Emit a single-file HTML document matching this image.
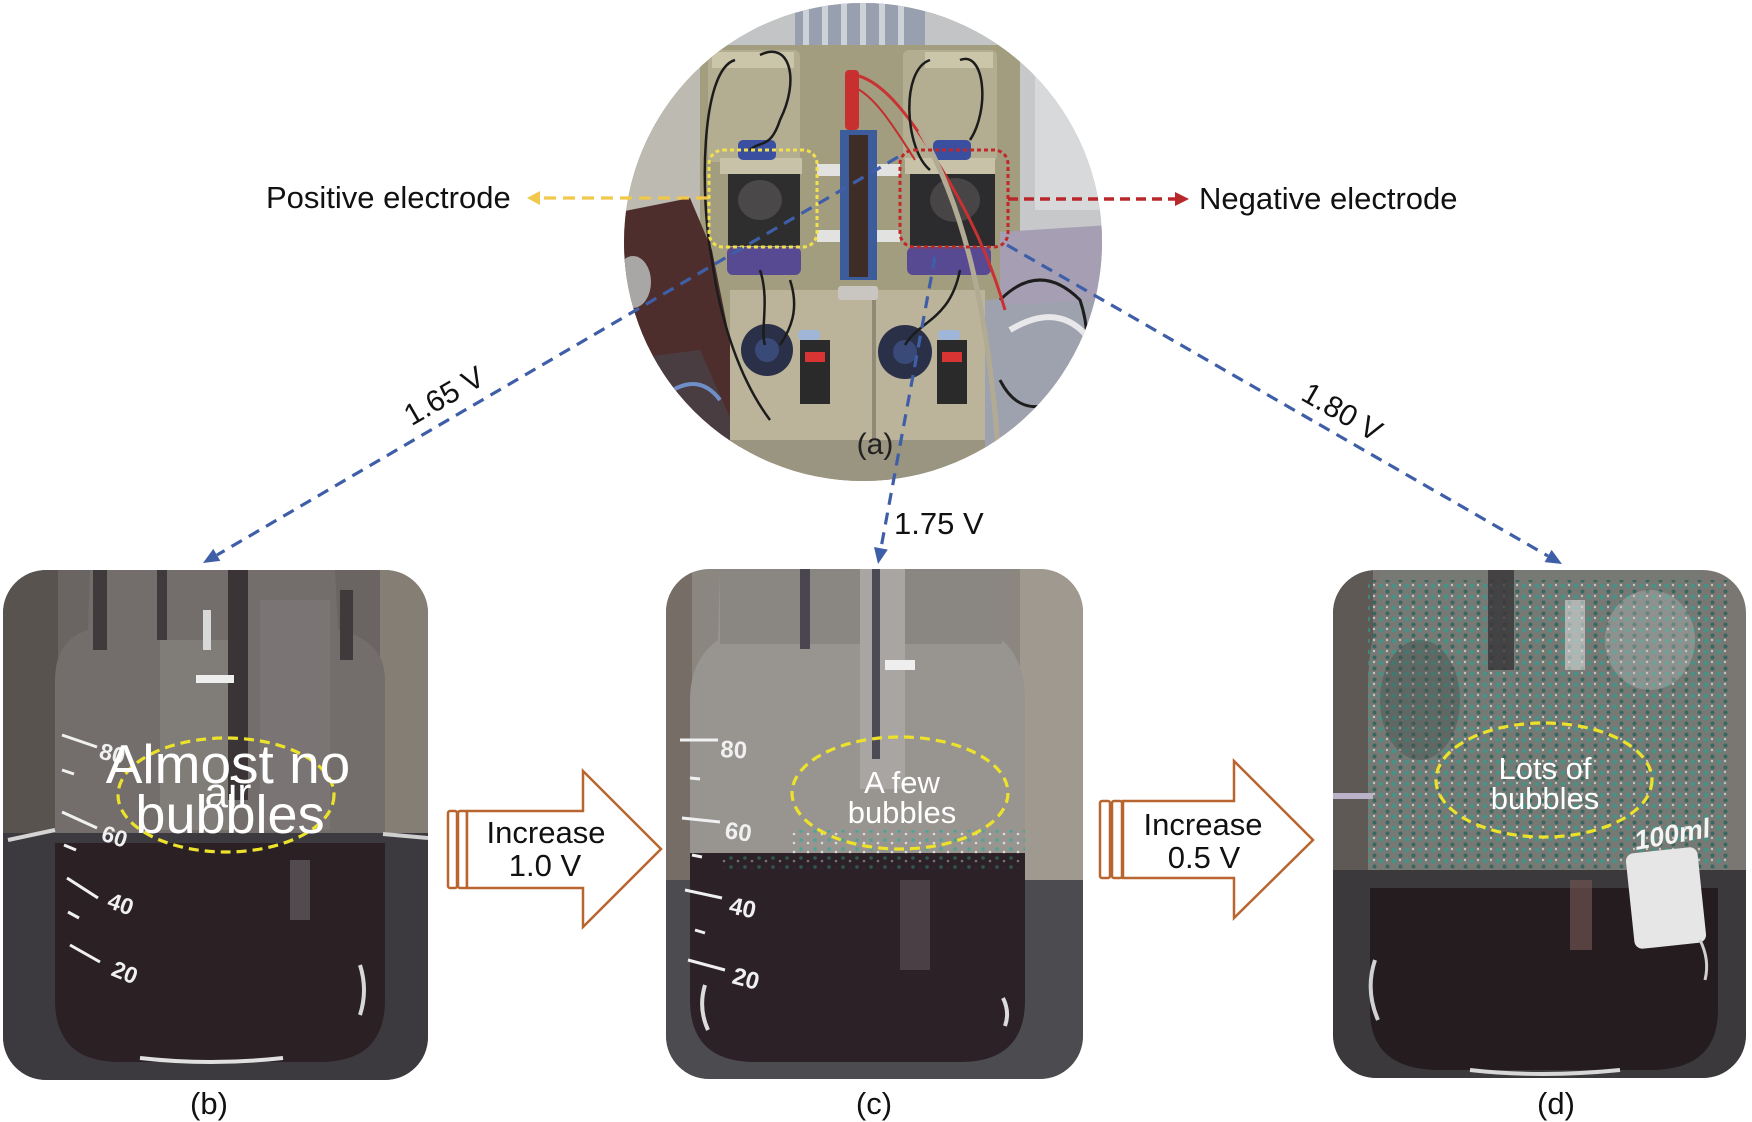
<!DOCTYPE html>
<html><head><meta charset="utf-8"><style>
html,body{margin:0;padding:0;background:#fff;}
svg{display:block;}
text{font-family:"Liberation Sans",Arial,sans-serif;}
</style></head><body>
<svg width="1752" height="1122" viewBox="0 0 1752 1122" xmlns="http://www.w3.org/2000/svg">
<defs>
<clipPath id="cA"><circle cx="863" cy="242" r="239"/></clipPath>
<clipPath id="cB"><rect x="3" y="570" width="425" height="510" rx="43"/></clipPath>
<clipPath id="cC"><rect x="666" y="569" width="417" height="510" rx="43"/></clipPath>
<clipPath id="cD"><rect x="1333" y="570" width="413" height="508" rx="43"/></clipPath>
<pattern id="bub" width="13" height="11" patternUnits="userSpaceOnUse">
 <circle cx="3" cy="3" r="2.3" fill="#2f9c90"/>
 <circle cx="9.5" cy="8.5" r="2" fill="#1d5e58"/>
 <circle cx="9" cy="2" r="1.2" fill="#dfe8e4"/>
</pattern>
<pattern id="bub2" width="14" height="9" patternUnits="userSpaceOnUse">
 <circle cx="3" cy="3" r="1.8" fill="#3aa89a"/>
 <circle cx="10" cy="6" r="1.3" fill="#e6eeec"/>
</pattern>
</defs>

<!-- ===== (a) circle photo ===== -->
<g clip-path="url(#cA)">
 <rect x="620" y="0" width="490" height="490" fill="#a39e84"/>
 <rect x="620" y="0" width="490" height="62" fill="#c2c4c6"/>
 <rect x="795" y="0" width="130" height="58" fill="#98a0b0"/>
 <g fill="#cdd1d8"><rect x="803" y="0" width="6" height="58"/><rect x="822" y="0" width="6" height="58"/><rect x="841" y="0" width="6" height="58"/><rect x="860" y="0" width="6" height="58"/><rect x="879" y="0" width="6" height="58"/><rect x="898" y="0" width="6" height="58"/></g>
 <rect x="620" y="40" width="90" height="180" fill="#bcbab1"/>
 <rect x="1010" y="40" width="100" height="200" fill="#c6c8ca"/>
 <rect x="1035" y="70" width="75" height="140" fill="#d7d9db"/>
 <rect x="700" y="45" width="320" height="290" fill="#a39d80"/>
 <rect x="708" y="50" width="92" height="112" rx="6" fill="#b3ad91"/>
 <rect x="903" y="50" width="94" height="112" rx="6" fill="#b3ad91"/>
 <rect x="712" y="52" width="82" height="16" fill="#cbc5a9"/>
 <rect x="925" y="52" width="68" height="16" fill="#cbc5a9"/>
 <polygon points="620,212 690,198 712,250 728,330 742,430 690,455 620,445" fill="#4d2e2d"/>
 <ellipse cx="633" cy="282" rx="18" ry="26" fill="#a8a7a5"/>
 <polygon points="620,360 700,350 740,440 740,490 620,490" fill="#4a3d42"/>
 <path d="M640,420 Q690,360 720,400" stroke="#6f8fc8" stroke-width="4" fill="none"/>
 <rect x="730" y="290" width="255" height="155" fill="#bbb49a"/>
 <rect x="872" y="290" width="4" height="155" fill="#8f8a74"/>
 <rect x="690" y="440" width="300" height="50" fill="#9a9580"/>
 <polygon points="985,300 1110,290 1110,490 985,490" fill="#9ea1ae"/>
 <polygon points="1000,232 1110,225 1110,300 1000,305" fill="#a69fb4"/>
 <path d="M1000,300 Q1040,260 1080,300 Q1100,360 1060,400 Q1020,420 1000,380" stroke="#1e1e1e" stroke-width="3" fill="none"/>
 <path d="M1010,330 Q1060,300 1090,340" stroke="#e8e8ea" stroke-width="6" fill="none"/>
 <circle cx="767" cy="350" r="26" fill="#2a3048"/>
 <circle cx="905" cy="352" r="27" fill="#2a3048"/>
 <circle cx="767" cy="350" r="12" fill="#3a4a78"/>
 <circle cx="905" cy="352" r="12" fill="#3a4a78"/>
 <rect x="800" y="340" width="30" height="64" fill="#2a2a2a"/>
 <rect x="937" y="340" width="30" height="64" fill="#2a2a2a"/>
 <rect x="805" y="352" width="20" height="10" fill="#d83434"/>
 <rect x="942" y="352" width="20" height="10" fill="#d83434"/>
 <rect x="798" y="330" width="22" height="10" rx="4" fill="#9fb6d8"/>
 <rect x="938" y="330" width="22" height="10" rx="4" fill="#9fb6d8"/>
 <rect x="840" y="130" width="37" height="150" fill="#3d5c9c"/>
 <rect x="849" y="135" width="19" height="142" fill="#3e2c26"/>
 <rect x="838" y="286" width="40" height="14" rx="3" fill="#c9c5c0"/>
 <g fill="#e2e2e0"><rect x="817" y="164" width="23" height="12"/><rect x="877" y="164" width="23" height="12"/><rect x="817" y="230" width="23" height="12"/><rect x="877" y="230" width="23" height="12"/></g>
 <rect x="720" y="158" width="82" height="16" fill="#c8c2a8"/>
 <rect x="905" y="158" width="90" height="16" fill="#c8c2a8"/>
 <rect x="738" y="140" width="38" height="20" rx="5" fill="#3b4fa0"/>
 <rect x="933" y="140" width="38" height="20" rx="5" fill="#3b4fa0"/>
 <rect x="728" y="174" width="72" height="72" fill="#2e2e2e"/>
 <rect x="910" y="174" width="85" height="72" fill="#2c2b2d"/>
 <ellipse cx="760" cy="200" rx="22" ry="20" fill="#4a4848"/>
 <ellipse cx="955" cy="200" rx="25" ry="22" fill="#474546"/>
 <rect x="727" y="247" width="74" height="28" rx="6" fill="#574a92"/>
 <rect x="907" y="247" width="84" height="28" rx="6" fill="#574a92"/>
 <path d="M855,75 C880,80 905,110 930,150 S985,240 1005,310" stroke="#c83232" stroke-width="3" fill="none"/>
 <path d="M848,85 C870,90 890,120 915,160" stroke="#c03030" stroke-width="2" fill="none"/>
 <rect x="845" y="70" width="14" height="60" rx="4" fill="#c83030"/>
 <path d="M920,130 C960,200 990,300 1000,480" stroke="#b2ab94" stroke-width="5" fill="none"/>
 <g stroke="#1c1c1c" stroke-width="2.5" fill="none">
  <path d="M735,60 C700,70 700,200 712,260 C720,320 740,380 770,420"/>
  <path d="M760,55 C790,40 800,80 780,120 C770,150 760,140 750,150"/>
  <path d="M930,60 C900,70 905,150 930,170"/>
  <path d="M960,60 C985,50 990,110 970,140"/>
  <path d="M760,270 C770,300 760,330 765,345"/>
  <path d="M960,270 C950,320 920,320 905,345"/>
  <path d="M790,280 C800,310 790,330 780,345"/>
 </g>
</g>

<!-- yellow / red electrode boxes and arrows -->
<rect x="709" y="150" width="108" height="97" rx="14" fill="none" stroke="#f2e04c" stroke-width="3" stroke-dasharray="4 3"/>
<line x1="708" y1="198" x2="537" y2="198" stroke="#f0c84a" stroke-width="3.2" stroke-dasharray="12 7"/>
<polygon points="527,198 540,191 540,205" fill="#f0c84a"/>
<rect x="900" y="150" width="108" height="97" rx="14" fill="none" stroke="#c0282a" stroke-width="3" stroke-dasharray="4 3"/>
<line x1="1008" y1="199" x2="1176" y2="199" stroke="#b8282a" stroke-width="3.5" stroke-dasharray="10 6"/>
<polygon points="1175,192 1189,199 1175,206" fill="#b8282a"/>
<text x="266" y="208" font-size="31" fill="#111">Positive electrode</text>
<text x="1199" y="209" font-size="31" fill="#111">Negative electrode</text>

<!-- (a) label -->
<text x="875" y="454" font-size="30" fill="#222" text-anchor="middle">(a)</text>

<!-- blue dashed connectors -->
<g stroke="#3f5ea8" stroke-width="3.2" stroke-dasharray="12 8" fill="none">
 <line x1="898" y1="157" x2="217" y2="555"/>
 <line x1="935" y1="257" x2="881" y2="548"/>
 <line x1="1007" y1="245" x2="1548" y2="556"/>
</g>
<g fill="#3f5ea8">
 <polygon points="203,563 220.3,560.9 213.3,548.9"/>
 <polygon points="878,564 887.8,549.6 874.0,547.0"/>
 <polygon points="1562,564 1544.6,562.1 1551.6,549.9"/>
</g>
<text transform="translate(444,396) rotate(-30)" x="0" y="10" font-size="30" fill="#111" text-anchor="middle">1.65 V</text>
<text transform="translate(1342,412) rotate(30)" x="0" y="10" font-size="30" fill="#111" text-anchor="middle">1.80 V</text>
<text x="894" y="534" font-size="31" fill="#111">1.75 V</text>

<!-- ===== (b) ===== -->
<g clip-path="url(#cB)">
 <rect x="3" y="570" width="425" height="510" fill="#6a6562"/>
 <rect x="380" y="570" width="50" height="265" fill="#857e75"/>
 <rect x="3" y="570" width="55" height="265" fill="#58534f"/>
 <path d="M90,570 L335,570 L338,630 Q385,640 385,680 L385,860 L55,860 L55,680 Q55,640 88,630 Z" fill="#736e6b"/>
 <rect x="160" y="640" width="70" height="190" fill="#86817e" opacity="0.7"/>
 <rect x="260" y="600" width="70" height="230" fill="#7e7979" opacity="0.6"/>
 <rect x="93" y="570" width="14" height="80" fill="#3f3a3c"/>
 <rect x="157" y="570" width="10" height="70" fill="#3f3a3c"/>
 <rect x="228" y="570" width="20" height="230" fill="#3a3436"/>
 <rect x="340" y="590" width="13" height="70" fill="#3f3a3c"/>
 <rect x="196" y="675" width="38" height="8" fill="#eeeeee"/>
 <rect x="203" y="610" width="8" height="40" fill="#d8d8d8"/>
 <rect x="3" y="833" width="425" height="250" fill="#3c3a3e"/>
 <line x1="8" y1="840" x2="55" y2="830" stroke="#d4d4d4" stroke-width="4"/>
 <line x1="383" y1="834" x2="428" y2="838" stroke="#d0d0d0" stroke-width="4"/>
 <path d="M55,843 L385,843 L385,1000 Q385,1062 320,1062 L120,1062 Q55,1062 55,1000 Z" fill="#2b2125"/>
 <rect x="290" y="860" width="20" height="60" fill="#8d8a8c" opacity="0.4"/>
 <path d="M140,1058 Q210,1066 283,1058" stroke="#e0e0e0" stroke-width="4" fill="none"/>
 <path d="M360,965 Q368,990 360,1015" stroke="#d8d8d8" stroke-width="4" fill="none"/>
 <g stroke="#f0f0f0" stroke-width="3" fill="none">
  <line x1="62" y1="735" x2="97" y2="747"/>
  <line x1="62" y1="812" x2="97" y2="828"/>
  <line x1="67" y1="878" x2="98" y2="898"/>
  <line x1="70" y1="945" x2="100" y2="962"/>
  <line x1="62" y1="770" x2="74" y2="774"/>
  <line x1="64" y1="845" x2="76" y2="850"/>
  <line x1="68" y1="912" x2="79" y2="918"/>
 </g>
 <g fill="#f0f0f0" font-size="23" font-weight="bold">
  <text transform="translate(98,758) rotate(15)">80</text>
  <text transform="translate(100,840) rotate(18)">60</text>
  <text transform="translate(106,907) rotate(20)">40</text>
  <text transform="translate(110,975) rotate(22)">20</text>
 </g>
</g>
<ellipse cx="226" cy="795" rx="108" ry="57" fill="none" stroke="#ece22c" stroke-width="3.2" stroke-dasharray="10 6"/>
<g fill="#ffffff" text-anchor="middle">
 <text x="228" y="783" font-size="55">Almost no</text>
 <text x="228" y="807" font-size="42">air</text>
 <text x="230" y="833" font-size="54">bubbles</text>
</g>

<!-- ===== (c) ===== -->
<g clip-path="url(#cC)">
 <rect x="666" y="569" width="417" height="510" fill="#8c8680"/>
 <rect x="1020" y="569" width="65" height="320" fill="#a09990"/>
 <rect x="666" y="569" width="26" height="320" fill="#766d66"/>
 <path d="M720,569 L1000,569 L1002,640 Q1025,660 1025,700 L1025,860 L690,860 L690,700 Q690,660 718,640 Z" fill="#989490"/>
 <rect x="720" y="569" width="282" height="75" fill="#8a8783"/>
 <rect x="860" y="569" width="45" height="220" fill="#a8a5a2"/>
 <rect x="872" y="569" width="8" height="190" fill="#4c4a55"/>
 <rect x="800" y="569" width="10" height="80" fill="#4a4650"/>
 <rect x="885" y="660" width="30" height="10" fill="#eeeeee"/>
 <rect x="666" y="880" width="417" height="200" fill="#4c4b4f"/>
 <path d="M690,853 L1025,853 L1025,1000 Q1025,1062 960,1062 L755,1062 Q690,1062 690,1000 Z" fill="#2b2126"/>
 <rect x="900" y="880" width="30" height="90" fill="#6a5d62" opacity="0.5"/>
 <rect x="790" y="830" width="235" height="24" fill="url(#bub2)" opacity="0.8"/>
 <rect x="720" y="855" width="300" height="14" fill="url(#bub2)" opacity="0.4"/>
 <path d="M705,985 Q698,1008 708,1030" stroke="#dcdcdc" stroke-width="4" fill="none"/>
 <path d="M1003,998 Q1010,1012 1005,1026" stroke="#dcdcdc" stroke-width="4" fill="none"/>
 <g stroke="#f0f0f0" stroke-width="3" fill="none">
  <line x1="680" y1="740" x2="718" y2="740"/>
  <line x1="682" y1="818" x2="720" y2="822"/>
  <line x1="685" y1="890" x2="722" y2="898"/>
  <line x1="688" y1="960" x2="725" y2="970"/>
  <line x1="690" y1="778" x2="700" y2="779"/>
  <line x1="692" y1="855" x2="702" y2="857"/>
  <line x1="695" y1="930" x2="705" y2="933"/>
 </g>
 <g fill="#f0f0f0" font-size="24" font-weight="bold">
  <text transform="translate(720,757) rotate(3)">80</text>
  <text transform="translate(724,838) rotate(8)">60</text>
  <text transform="translate(728,913) rotate(12)">40</text>
  <text transform="translate(731,983) rotate(15)">20</text>
 </g>
</g>
<ellipse cx="900" cy="793" rx="108" ry="56" fill="none" stroke="#ece22c" stroke-width="3.2" stroke-dasharray="10 6"/>
<g fill="#ffffff" text-anchor="middle" font-size="31">
 <text x="902" y="793">A few</text>
 <text x="902" y="823">bubbles</text>
</g>

<!-- ===== (d) ===== -->
<g clip-path="url(#cD)">
 <rect x="1333" y="570" width="413" height="508" fill="#7a7671"/>
 <rect x="1333" y="570" width="40" height="300" fill="#5e5955"/>
 <path d="M1380,570 L1700,570 L1705,610 Q1728,640 1728,690 L1728,890 L1368,890 L1368,690 Q1368,640 1382,610 Z" fill="#767974"/>
 <rect x="1368" y="580" width="360" height="330" fill="url(#bub)" opacity="0.7"/>
 <ellipse cx="1420" cy="700" rx="40" ry="60" fill="#3d4a48" opacity="0.35"/>
 <ellipse cx="1650" cy="640" rx="45" ry="50" fill="#c6cac8" opacity="0.3"/>
 <rect x="1488" y="570" width="26" height="100" fill="#3a3438" opacity="0.8"/>
 <rect x="1565" y="600" width="20" height="70" fill="#d9dcda" opacity="0.6"/>
 <rect x="1333" y="793" width="40" height="6" fill="#bab2c8"/>
 <rect x="1333" y="870" width="413" height="210" fill="#3b393c"/>
 <path d="M1370,888 L1718,888 L1718,1010 Q1718,1070 1650,1070 L1440,1070 Q1370,1070 1370,1010 Z" fill="#241c1f"/>
 <rect x="1570" y="880" width="22" height="70" fill="#6e5250" opacity="0.7"/>
 <rect x="1630" y="850" width="72" height="96" rx="8" fill="#e6e6e6" transform="rotate(-6 1666 898)"/>
 <text transform="translate(1636,850) rotate(-10)" font-size="27" font-weight="bold" font-style="italic" fill="#f4f4f4">100ml</text>
 <path d="M1375,960 Q1365,990 1378,1020" stroke="#d0d0d0" stroke-width="4" fill="none"/>
 <path d="M1470,1070 Q1540,1078 1620,1070" stroke="#d8d8d8" stroke-width="4" fill="none"/>
 <path d="M1700,940 Q1710,960 1705,980" stroke="#cfcfcf" stroke-width="3" fill="none"/>
</g>
<ellipse cx="1544" cy="780" rx="108" ry="57" fill="none" stroke="#ece22c" stroke-width="3.2" stroke-dasharray="10 6"/>
<g fill="#ffffff" text-anchor="middle" font-size="31">
 <text x="1545" y="779">Lots of</text>
 <text x="1545" y="809">bubbles</text>
</g>

<!-- ===== block arrows ===== -->
<g fill="#ffffff" stroke="#b8652f" stroke-width="2.5">
 <rect x="448" y="811" width="9" height="77" rx="2"/>
 <rect x="458" y="811" width="9" height="77" rx="2"/>
 <path d="M467,811 L583,811 L583,771 L661,849 L583,927 L583,888 L467,888 Z"/>
 <rect x="1100" y="801" width="10" height="77" rx="2"/>
 <rect x="1112" y="801" width="10" height="77" rx="2"/>
 <path d="M1123,801 L1234,801 L1234,761 L1313,840 L1234,918 L1234,878 L1123,878 Z"/>
</g>
<g fill="#111" text-anchor="middle" font-size="31">
 <text x="546" y="843">Increase</text>
 <text x="545" y="876">1.0 V</text>
 <text x="1203" y="835">Increase</text>
 <text x="1204" y="868">0.5 V</text>
</g>

<!-- panel labels -->
<g fill="#111" text-anchor="middle" font-size="31">
 <text x="209" y="1114">(b)</text>
 <text x="874" y="1114">(c)</text>
 <text x="1556" y="1114">(d)</text>
</g>
</svg>
</body></html>
